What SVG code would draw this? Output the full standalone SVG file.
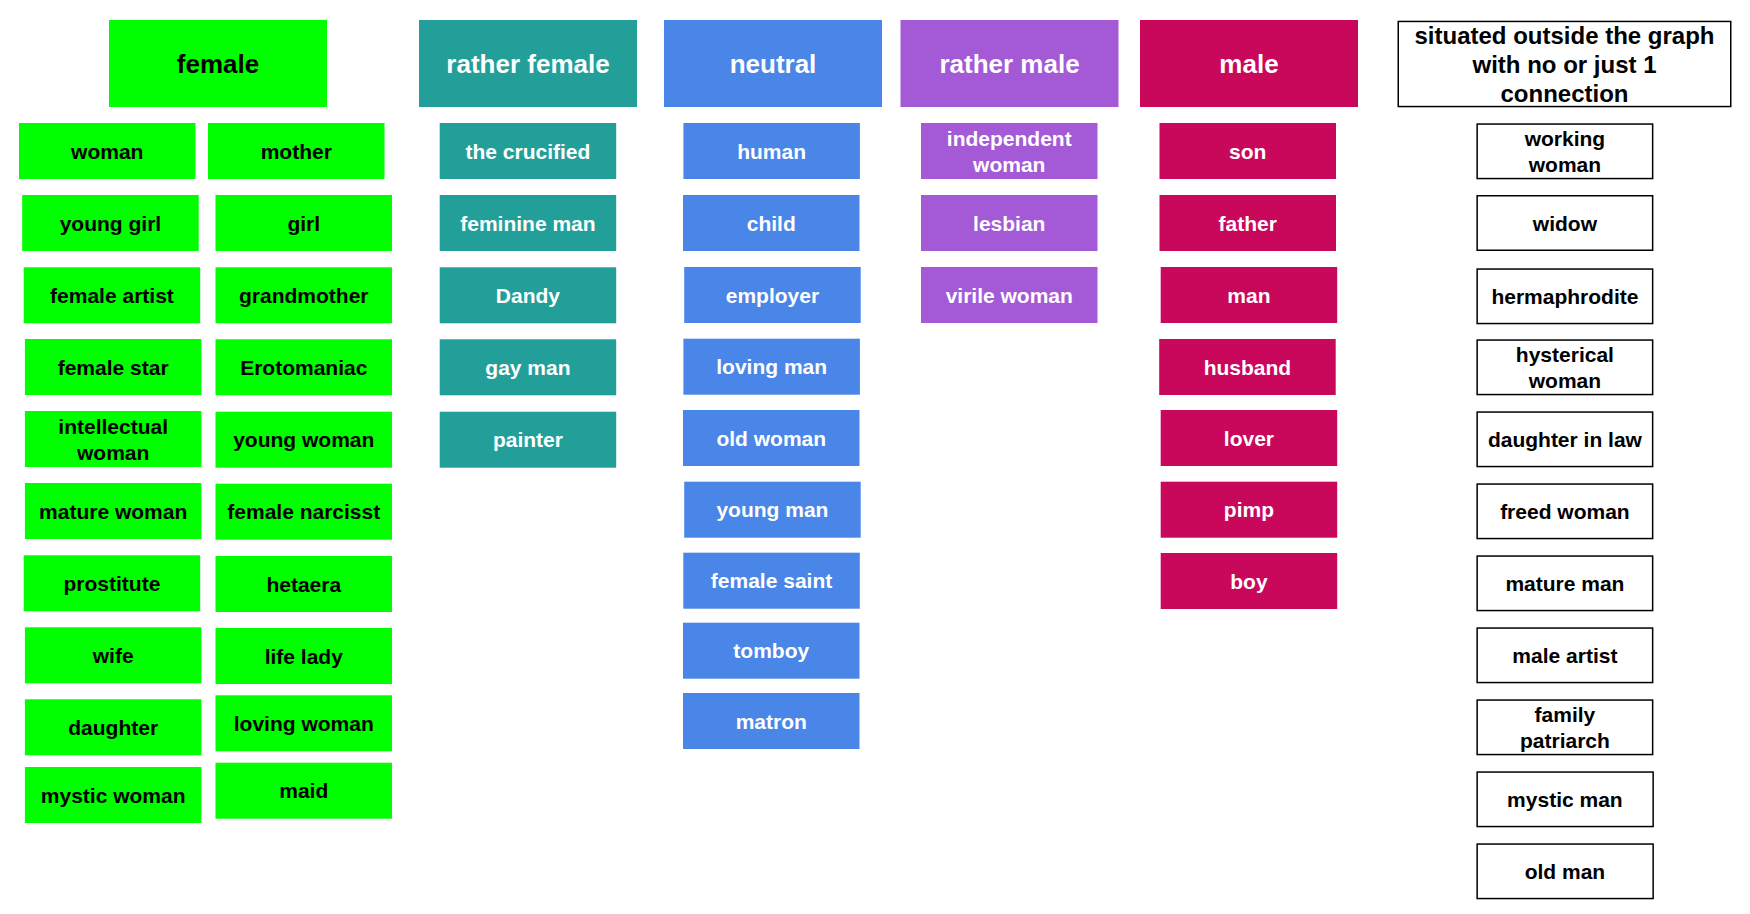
<svg xmlns="http://www.w3.org/2000/svg" width="1750" height="914" viewBox="0 0 1750 914">
<style>
text{font-family:"Liberation Sans",Arial,sans-serif;font-weight:bold;text-anchor:middle}
.n{font-size:21px}
.h{font-size:26px}
.s{font-size:24px;fill:#000}
.g rect{fill:#00ff00}.g text{fill:#000}
.t rect{fill:#239f9a}.t text{fill:#fff}
.b rect{fill:#4a86e8}.b text{fill:#fff}
.p rect{fill:#a45ad7}.p text{fill:#fff}
.m rect{fill:#c9075b}.m text{fill:#fff}
.o rect{fill:#fff;stroke:#000;stroke-width:1.5}.o text{fill:#000}
</style>
<rect width="1750" height="914" fill="#fff"/>
<g id="connectors"/>
<!-- headers -->
<g id="h-female" class="g"><rect x="109" y="20" width="218" height="87"/><text class="h" x="218" y="73">female</text></g>
<g id="h-rather-female" class="t"><rect x="419" y="20" width="218" height="87"/><text class="h" x="528" y="73">rather female</text></g>
<g id="h-neutral" class="b"><rect x="664" y="20" width="218" height="87"/><text class="h" x="773" y="73">neutral</text></g>
<g id="h-rather-male" class="p"><rect x="900.5" y="20" width="218" height="87"/><text class="h" x="1009.5" y="73">rather male</text></g>
<g id="h-male" class="m"><rect x="1140" y="20" width="218" height="87"/><text class="h" x="1249" y="73">male</text></g>
<g id="h-outside" class="o"><rect x="1398.25" y="21.45" width="332.5" height="85.1"/><text class="s" x="1564.5" y="43.5">situated outside the graph</text><text class="s" x="1564.5" y="72.5">with no or just 1</text><text class="s" x="1564.5" y="101.5">connection</text></g>
<!-- female left column -->
<g id="woman" class="g"><rect x="19" y="123" width="176.5" height="56"/><text class="n" x="107.25" y="158.5">woman</text></g>
<g id="young-girl" class="g"><rect x="22.2" y="195" width="176.5" height="56"/><text class="n" x="110.45" y="230.5">young girl</text></g>
<g id="female-artist" class="g"><rect x="23.7" y="267.3" width="176.5" height="56"/><text class="n" x="111.95" y="302.8">female artist</text></g>
<g id="female-star" class="g"><rect x="24.9" y="339" width="176.5" height="56"/><text class="n" x="113.15" y="374.5">female star</text></g>
<g id="intellectual-woman" class="g"><rect x="24.9" y="411" width="176.5" height="56"/><text class="n" x="113.15" y="433.5">intellectual</text><text class="n" x="113.15" y="459.5">woman</text></g>
<g id="mature-woman" class="g"><rect x="24.9" y="483" width="176.5" height="56"/><text class="n" x="113.15" y="518.5">mature woman</text></g>
<g id="prostitute" class="g"><rect x="23.7" y="555.3" width="176.5" height="56"/><text class="n" x="111.95" y="590.8">prostitute</text></g>
<g id="wife" class="g"><rect x="24.9" y="627.3" width="176.5" height="56"/><text class="n" x="113.15" y="662.8">wife</text></g>
<g id="daughter" class="g"><rect x="24.9" y="699.3" width="176.5" height="56"/><text class="n" x="113.15" y="734.8">daughter</text></g>
<g id="mystic-woman" class="g"><rect x="24.9" y="767" width="176.5" height="56"/><text class="n" x="113.15" y="802.5">mystic woman</text></g>
<!-- female right column -->
<g id="mother" class="g"><rect x="208" y="123" width="176.5" height="56"/><text class="n" x="296.25" y="158.5">mother</text></g>
<g id="girl" class="g"><rect x="215.5" y="195" width="176.5" height="56"/><text class="n" x="303.75" y="230.5">girl</text></g>
<g id="grandmother" class="g"><rect x="215.5" y="267.3" width="176.5" height="56"/><text class="n" x="303.75" y="302.8">grandmother</text></g>
<g id="erotomaniac" class="g"><rect x="215.5" y="339.3" width="176.5" height="56"/><text class="n" x="303.75" y="374.8">Erotomaniac</text></g>
<g id="young-woman" class="g"><rect x="215.5" y="411.7" width="176.5" height="56"/><text class="n" x="303.75" y="447.2">young woman</text></g>
<g id="female-narcisst" class="g"><rect x="215.5" y="483.7" width="176.5" height="56"/><text class="n" x="303.75" y="519.2">female narcisst</text></g>
<g id="hetaera" class="g"><rect x="215.5" y="556" width="176.5" height="56"/><text class="n" x="303.75" y="591.5">hetaera</text></g>
<g id="life-lady" class="g"><rect x="215.5" y="628" width="176.5" height="56"/><text class="n" x="303.75" y="663.5">life lady</text></g>
<g id="loving-woman" class="g"><rect x="215.5" y="695.3" width="176.5" height="56"/><text class="n" x="303.75" y="730.8">loving woman</text></g>
<g id="maid" class="g"><rect x="215.5" y="762.7" width="176.5" height="56"/><text class="n" x="303.75" y="798.2">maid</text></g>
<!-- rather female -->
<g id="the-crucified" class="t"><rect x="439.7" y="123" width="176.5" height="56"/><text class="n" x="527.95" y="158.5">the crucified</text></g>
<g id="feminine-man" class="t"><rect x="439.7" y="195" width="176.5" height="56"/><text class="n" x="527.95" y="230.5">feminine man</text></g>
<g id="dandy" class="t"><rect x="439.7" y="267.3" width="176.5" height="56"/><text class="n" x="527.95" y="302.8">Dandy</text></g>
<g id="gay-man" class="t"><rect x="439.7" y="339.3" width="176.5" height="56"/><text class="n" x="527.95" y="374.8">gay man</text></g>
<g id="painter" class="t"><rect x="439.7" y="411.7" width="176.5" height="56"/><text class="n" x="527.95" y="447.2">painter</text></g>
<!-- neutral -->
<g id="human" class="b"><rect x="683.4" y="123" width="176.5" height="56"/><text class="n" x="771.65" y="158.5">human</text></g>
<g id="child" class="b"><rect x="683" y="195" width="176.5" height="56"/><text class="n" x="771.25" y="230.5">child</text></g>
<g id="employer" class="b"><rect x="684.2" y="267" width="176.5" height="56"/><text class="n" x="772.45" y="302.5">employer</text></g>
<g id="loving-man" class="b"><rect x="683.4" y="338.7" width="176.5" height="56"/><text class="n" x="771.65" y="374.2">loving man</text></g>
<g id="old-woman" class="b"><rect x="683" y="410" width="176.5" height="56"/><text class="n" x="771.25" y="445.5">old woman</text></g>
<g id="young-man" class="b"><rect x="684.2" y="481.7" width="176.5" height="56"/><text class="n" x="772.45" y="517.2">young man</text></g>
<g id="female-saint" class="b"><rect x="683.3" y="552.7" width="176.5" height="56"/><text class="n" x="771.55" y="588.2">female saint</text></g>
<g id="tomboy" class="b"><rect x="683" y="622.7" width="176.5" height="56"/><text class="n" x="771.25" y="658.2">tomboy</text></g>
<g id="matron" class="b"><rect x="683" y="693" width="176.5" height="56"/><text class="n" x="771.25" y="728.5">matron</text></g>
<!-- rather male -->
<g id="independent-woman" class="p"><rect x="921" y="123" width="176.5" height="56"/><text class="n" x="1009.25" y="145.5">independent</text><text class="n" x="1009.25" y="171.5">woman</text></g>
<g id="lesbian" class="p"><rect x="921" y="195" width="176.5" height="56"/><text class="n" x="1009.25" y="230.5">lesbian</text></g>
<g id="virile-woman" class="p"><rect x="921" y="267" width="176.5" height="56"/><text class="n" x="1009.25" y="302.5">virile woman</text></g>
<!-- male -->
<g id="son" class="m"><rect x="1159.5" y="123" width="176.5" height="56"/><text class="n" x="1247.75" y="158.5">son</text></g>
<g id="father" class="m"><rect x="1159.5" y="195" width="176.5" height="56"/><text class="n" x="1247.75" y="230.5">father</text></g>
<g id="man" class="m"><rect x="1160.7" y="267" width="176.5" height="56"/><text class="n" x="1248.95" y="302.5">man</text></g>
<g id="husband" class="m"><rect x="1159.2" y="339" width="176.5" height="56"/><text class="n" x="1247.45" y="374.5">husband</text></g>
<g id="lover" class="m"><rect x="1160.7" y="410" width="176.5" height="56"/><text class="n" x="1248.95" y="445.5">lover</text></g>
<g id="pimp" class="m"><rect x="1160.7" y="481.7" width="176.5" height="56"/><text class="n" x="1248.95" y="517.2">pimp</text></g>
<g id="boy" class="m"><rect x="1160.7" y="553" width="176.5" height="56"/><text class="n" x="1248.95" y="588.5">boy</text></g>
<!-- outside -->
<g id="working-woman" class="o"><rect x="1477.15" y="124.05" width="175.5" height="54.5"/><text class="n" x="1564.9" y="145.8">working</text><text class="n" x="1564.9" y="171.8">woman</text></g>
<g id="widow" class="o"><rect x="1477.15" y="195.75" width="175.5" height="54.5"/><text class="n" x="1564.9" y="230.5">widow</text></g>
<g id="hermaphrodite" class="o"><rect x="1477.15" y="269.05" width="175.5" height="54.5"/><text class="n" x="1564.9" y="303.8">hermaphrodite</text></g>
<g id="hysterical-woman" class="o"><rect x="1477.15" y="340.05" width="175.5" height="54.5"/><text class="n" x="1564.9" y="361.8">hysterical</text><text class="n" x="1564.9" y="387.8">woman</text></g>
<g id="daughter-in-law" class="o"><rect x="1477.15" y="412.05" width="175.5" height="54.5"/><text class="n" x="1564.9" y="446.8">daughter in law</text></g>
<g id="freed-woman" class="o"><rect x="1477.15" y="484.05" width="175.5" height="54.5"/><text class="n" x="1564.9" y="518.8">freed woman</text></g>
<g id="mature-man" class="o"><rect x="1477.15" y="556.05" width="175.5" height="54.5"/><text class="n" x="1564.9" y="590.8">mature man</text></g>
<g id="male-artist" class="o"><rect x="1477.15" y="628.05" width="175.5" height="54.5"/><text class="n" x="1564.9" y="662.8">male artist</text></g>
<g id="family-patriarch" class="o"><rect x="1477.15" y="700.05" width="175.5" height="54.5"/><text class="n" x="1564.9" y="721.8">family</text><text class="n" x="1564.9" y="747.8">patriarch</text></g>
<g id="mystic-man" class="o"><rect x="1477.15" y="772.05" width="176" height="54.5"/><text class="n" x="1564.9" y="806.8">mystic man</text></g>
<g id="old-man" class="o"><rect x="1477.15" y="844.05" width="176" height="54.5"/><text class="n" x="1564.9" y="878.8">old man</text></g>
</svg>
